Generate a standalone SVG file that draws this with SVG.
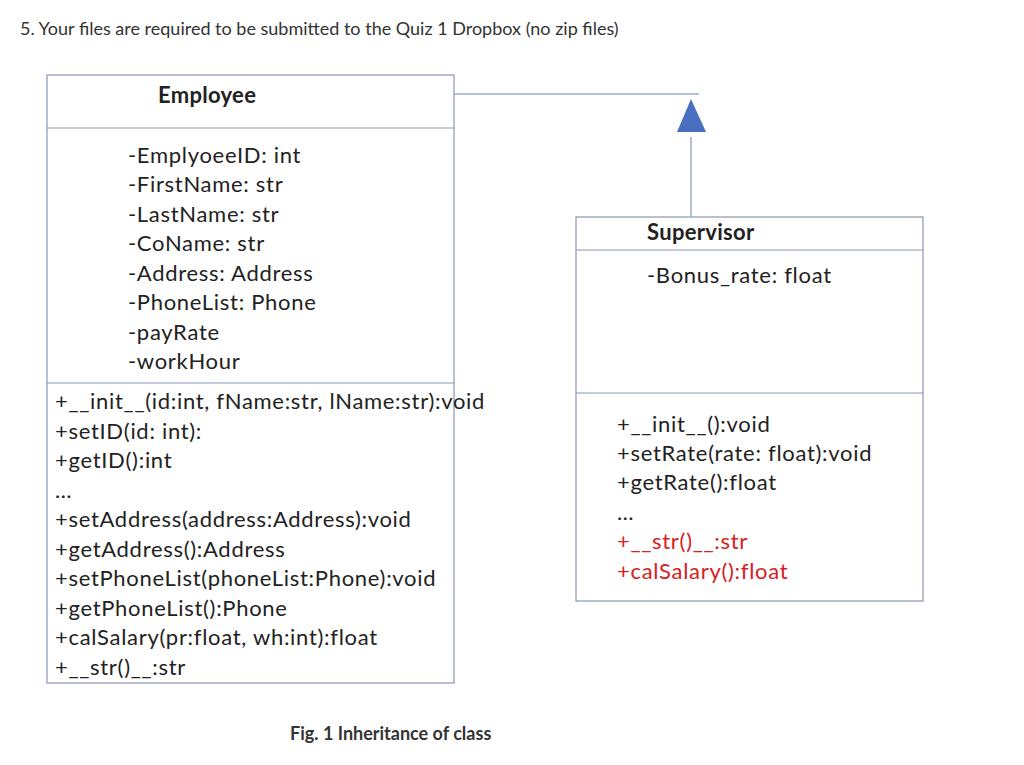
<svg xmlns="http://www.w3.org/2000/svg" width="1024" height="765" viewBox="0 0 1024 765">
<style>
text{font-family:Lato,"Open Sans","Liberation Sans",sans-serif;fill:#222}
.t{font-size:22px;letter-spacing:0.7px}
.h{font-size:22px;font-weight:bold;letter-spacing:0.3px}
.r{fill:#d62020}
.box{fill:#fff;stroke:#8a97b5;stroke-width:1.2}
.ln{stroke:#8a97b5;stroke-width:1.2}
.c{stroke:#9aa9cc;stroke-width:1.5;fill:none}
</style>
<rect width="1024" height="765" fill="#fff"/>
<text x="20" y="35" style="font-size:18px;fill:#333">5. Your files are required to be submitted to the Quiz 1 Dropbox (no zip files)</text>
<g id="Employee">
<rect class="box" x="47" y="75" width="407" height="608"/>
<line class="ln" x1="47" y1="128" x2="454" y2="128"/>
<line class="ln" x1="47" y1="383" x2="454" y2="383"/>
<text class="h" x="158" y="103">Employee</text>
<text class="t" x="128" y="163">-EmplyoeeID: int</text>
<text class="t" x="128" y="192">-FirstName: str</text>
<text class="t" x="128" y="222">-LastName: str</text>
<text class="t" x="128" y="251">-CoName: str</text>
<text class="t" x="128" y="281">-Address: Address</text>
<text class="t" x="128" y="310">-PhoneList: Phone</text>
<text class="t" x="128" y="340">-payRate</text>
<text class="t" x="128" y="369">-workHour</text>
<text class="t" x="55" y="409">+__init__(id:int, fName:str, lName:str):void</text>
<text class="t" x="55" y="439">+setID(id: int):</text>
<text class="t" x="55" y="468">+getID():int</text>
<text class="t" x="55" y="498">…</text>
<text class="t" x="55" y="527">+setAddress(address:Address):void</text>
<text class="t" x="55" y="557">+getAddress():Address</text>
<text class="t" x="55" y="586">+setPhoneList(phoneList:Phone):void</text>
<text class="t" x="55" y="616">+getPhoneList():Phone</text>
<text class="t" x="55" y="645">+calSalary(pr:float, wh:int):float</text>
<text class="t" x="55" y="675">+__str()__:str</text>
</g>
<g id="Supervisor">
<rect class="box" x="576" y="217" width="347" height="384"/>
<line class="ln" x1="576" y1="250" x2="923" y2="250"/>
<line class="ln" x1="576" y1="393" x2="923" y2="393"/>
<text class="h" x="647" y="240">Supervisor</text>
<text class="t" x="647" y="283">-Bonus_rate: float</text>
<text class="t" x="617" y="432">+__init__():void</text>
<text class="t" x="617" y="461">+setRate(rate: float):void</text>
<text class="t" x="617" y="490">+getRate():float</text>
<text class="t" x="617" y="520">…</text>
<text class="t r" x="617" y="549">+__str()__:str</text>
<text class="t r" x="617" y="579">+calSalary():float</text>
</g>
<g id="connectors">
<line class="c" x1="454" y1="94" x2="699" y2="94"/>
<line class="c" x1="691" y1="137" x2="691" y2="217"/>
<polygon points="691,99 677,132 706,132" fill="#4a6fc0"/>
</g>
<text x="290" y="740" style="font-size:18px;font-weight:bold;fill:#333">Fig. 1 Inheritance of class</text>
</svg>
